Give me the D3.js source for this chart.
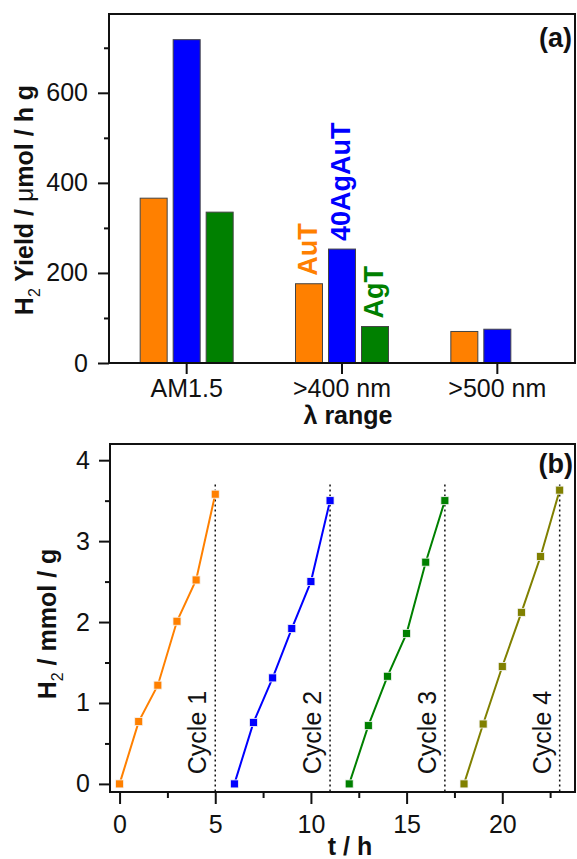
<!DOCTYPE html>
<html><head><meta charset="utf-8">
<script src="https://cdn.jsdelivr.net/npm/d3@7"></script>
<style>body{margin:0;background:#fff} text{font-family:"Liberation Sans",Arial,sans-serif}</style>
</head><body><svg id="c" width="577" height="859"></svg>
<script>
// ---- Panel (a) data ----
const categories = ["AM1.5", ">400 nm", ">500 nm"];
const samples = ["AuT", "40AgAuT", "AgT"];
const yieldAuT = [366, 176, 70];
const yield40AgAuT = [718, 253, 75];
const yieldAgT = [335, 81, null];
const yTicksA = [0, 200, 400, 600];
const yMinorA = [100, 300, 500, 700];
const sampleColors = ["#FF8000", "#0000FF", "#008000"];

// ---- Panel (b) data ----
const cycles = ["Cycle 1", "Cycle 2", "Cycle 3", "Cycle 4"];
const cycleTimes = [[0,1,2,3,4,5],[6,7,8,9,10,11],[12,13,14,15,16,17],[18,19,20,21,22,23]];
const cycleH2 = [[0,0.77,1.22,2.01,2.52,3.58],[0,0.76,1.31,1.92,2.50,3.50],[0,0.72,1.33,1.86,2.74,3.50],[0,0.74,1.45,2.12,2.81,3.63]];
const cycleEnds = [5, 11, 17, 23];
const cycleColors = ["#FF8000", "#0000FF", "#008000", "#808000"];
const xTicksB = [0, 5, 10, 15, 20];
const xMinorB = [2.5, 7.5, 12.5, 17.5, 22.5];
const yTicksB = [0, 1, 2, 3, 4];
const yMinorB = [0.5, 1.5, 2.5, 3.5];

const svg = d3.select("#c");
const FS = 25;

function styleAxis(g){
  g.select(".domain").remove();
  g.selectAll(".tick line").attr("stroke","#111").attr("stroke-width",2);
  g.selectAll(".tick text").attr("font-size",FS).attr("fill","#111").attr("font-family","Liberation Sans, Arial, sans-serif");
}

// ================= Panel (a) =================
const A = {l:109, r:575, t:14, b:363};
const xA = d3.scaleBand().domain(categories).range([A.l, A.r]).padding(0);
const inner = d3.scaleBand().domain(samples).range([-46.5, 46.5]).paddingInner(0.182).paddingOuter(0);
const yA = d3.scaleLinear().domain([0, 775]).range([A.b, A.t]);
const seriesA = [yieldAuT, yield40AgAuT, yieldAgT];

const gA = svg.append("g");
samples.forEach((s, si) => {
  gA.selectAll(null).data(categories.map((c,i)=>({c, v:seriesA[si][i]})).filter(d=>d.v!=null))
    .enter().append("rect")
    .attr("x", d => xA(d.c) + xA.bandwidth()/2 + inner(s))
    .attr("width", inner.bandwidth())
    .attr("y", d => yA(d.v))
    .attr("height", d => yA(0) - yA(d.v))
    .attr("fill", sampleColors[si])
    .attr("stroke", "#444").attr("stroke-width", 1);
});
// sample labels over >400 nm group
samples.forEach((s, si) => {
  const c = categories[1];
  const v = seriesA[si][1];
  const cx = xA(c) + xA.bandwidth()/2 + inner(s) + inner.bandwidth()/2 + 8;
  const y = yA(v) - 8;
  gA.append("text").attr("transform", `translate(${cx},${y}) rotate(-90)`)
    .attr("font-size", 27).attr("font-weight","bold").attr("fill", sampleColors[si]).text(s);
});

gA.append("g").attr("transform",`translate(${A.l},0)`)
  .call(d3.axisLeft(yA).tickValues(yTicksA).tickSize(11).tickPadding(10).tickFormat(d3.format("d"))).call(styleAxis);
gA.append("g").attr("transform",`translate(${A.l},0)`)
  .call(d3.axisLeft(yA).tickValues(yMinorA).tickSize(5).tickFormat("")).call(styleAxis);
gA.append("g").attr("transform",`translate(0,${A.b})`)
  .call(d3.axisBottom(xA).tickSize(11).tickPadding(5)).call(styleAxis);
gA.append("rect").attr("x",A.l).attr("y",A.t).attr("width",A.r-A.l).attr("height",A.b-A.t)
  .attr("fill","none").attr("stroke","#111").attr("stroke-width",2);

// y title (a)
const tA = gA.append("text").attr("transform","translate(33,200) rotate(-90)")
  .attr("text-anchor","middle").attr("font-size",FS).attr("font-weight","bold").attr("fill","#111");
tA.append("tspan").text("H");
tA.append("tspan").attr("font-size",16).attr("font-weight","normal").attr("dy",7).text("2");
tA.append("tspan").attr("dy",-7).text(" Yield / ");
tA.append("tspan").attr("font-weight","normal").text("\u03BC");
tA.append("tspan").text("mol / h g");
gA.append("text").attr("x",348).attr("y",424).attr("text-anchor","middle")
  .attr("font-size",FS).attr("font-weight","bold").attr("fill","#111").text("\u03BB range");
gA.append("text").attr("x",572).attr("y",47).attr("text-anchor","end")
  .attr("font-size",27).attr("font-weight","bold").attr("fill","#111").text("(a)");

// ================= Panel (b) =================
const B = {l:110, r:575, t:444, b:792};
const xB = d3.scaleLinear().domain([-0.5, 23.8]).range([B.l, B.r]);
const yB = d3.scaleLinear().domain([-0.1, 4.2]).range([B.b, B.t]);
const gB = svg.append("g");

// dotted lines and cycle labels
cycleEnds.forEach((t, i) => {
  gB.append("line").attr("x1",xB(t)).attr("x2",xB(t)).attr("y1",yB(3.7)).attr("y2",yB(-0.1))
    .attr("stroke","#111").attr("stroke-width",1.5).attr("stroke-dasharray","2,3");
  gB.append("text").attr("transform",`translate(${xB(t)-9},${yB(0.12)}) rotate(-90)`)
    .attr("font-size",FS).attr("fill","#111").text(cycles[i]);
});

const line = d3.line().x(d=>xB(d[0])).y(d=>yB(d[1]));
cycles.forEach((c, i) => {
  const pts = cycleTimes[i].map((t,j)=>[t, cycleH2[i][j]]);
  gB.append("path").datum(pts).attr("d", line).attr("fill","none")
    .attr("stroke", cycleColors[i]).attr("stroke-width", 2);
  gB.selectAll(null).data(pts).enter().append("rect")
    .attr("x", d=>xB(d[0])-4).attr("y", d=>yB(d[1])-4).attr("width",8).attr("height",8)
    .attr("fill", cycleColors[i]).attr("stroke","#f4f4f4").attr("stroke-width",0.8);
});

gB.append("g").attr("transform",`translate(${B.l},0)`)
  .call(d3.axisLeft(yB).tickValues(yTicksB).tickSize(11).tickPadding(9).tickFormat(d3.format("d"))).call(styleAxis);
gB.append("g").attr("transform",`translate(${B.l},0)`)
  .call(d3.axisLeft(yB).tickValues(yMinorB).tickSize(5).tickFormat("")).call(styleAxis);
gB.append("g").attr("transform",`translate(0,${B.b})`)
  .call(d3.axisBottom(xB).tickValues(xTicksB).tickSize(12).tickPadding(11).tickFormat(d3.format("d"))).call(styleAxis);
gB.append("g").attr("transform",`translate(0,${B.b})`)
  .call(d3.axisBottom(xB).tickValues(xMinorB).tickSize(6).tickFormat("")).call(styleAxis);
gB.append("rect").attr("x",B.l).attr("y",B.t).attr("width",B.r-B.l).attr("height",B.b-B.t)
  .attr("fill","none").attr("stroke","#111").attr("stroke-width",2);

const tB = gB.append("text").attr("transform","translate(56,624) rotate(-90)")
  .attr("text-anchor","middle").attr("font-size",FS).attr("font-weight","bold").attr("fill","#111");
tB.append("tspan").text("H");
tB.append("tspan").attr("font-size",16).attr("font-weight","normal").attr("dy",7).text("2");
tB.append("tspan").attr("dy",-7).text(" / mmol / g");
gB.append("text").attr("x",350).attr("y",855).attr("text-anchor","middle")
  .attr("font-size",FS).attr("font-weight","bold").attr("fill","#111").text("t / h");
gB.append("text").attr("x",573).attr("y",473).attr("text-anchor","end")
  .attr("font-size",27).attr("font-weight","bold").attr("fill","#111").text("(b)");
</script></body></html>
